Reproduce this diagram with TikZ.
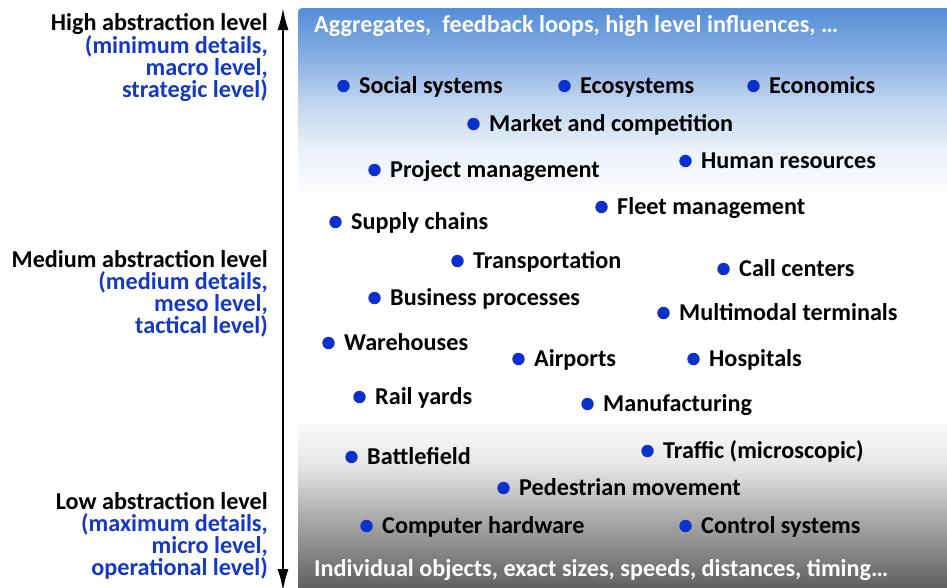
\documentclass[tikz,border=0pt]{standalone}
\usepackage{fontspec}
\setmainfont{Carlito}
\usetikzlibrary{arrows.meta}
\tikzset{>=latex}
\definecolor{myblue}{RGB}{84,141,213}
\definecolor{mydotblue}{RGB}{12,48,204}
\definecolor{mytextblue}{RGB}{20,56,200}
\definecolor{mygray}{RGB}{92,92,92}
\newcommand\blu[1]{\textcolor{mytextblue}{#1}}
\tikzset{
  bigfont/.style={font=\fontsize{24.2}{22}\selectfont\bfseries},
  topic/.style={bigfont,anchor=west,inner sep=0pt,text height=20pt,text depth=5pt},
  levelname/.style={bigfont,anchor=east,align=right,inner sep=0pt},
  bartext/.style={topic,text=white},
}

\begin{document}
\begin{tikzpicture}[x=1pt,y=-1pt]
  \useasboundingbox (0,0) rectangle (947,587);

  % shaded box
  \begin{scope}
    \clip[rounded corners=4] (298,592) -- (298,8) -- (952,8) -- (952,592) -- cycle;
    \fill[white] (298,8) rectangle (952,592);
    \shade[top color=myblue,bottom color=myblue!68!white]
      (298,7) rectangle (952,60.5);
    \shade[top color=myblue!68!white,bottom color=myblue!38!white]
      (298,60) rectangle (952,100.5);
    \shade[top color=myblue!38!white,bottom color=myblue!12!white]
      (298,100) rectangle (952,150.5);
    \shade[top color=myblue!12!white,bottom color=white]
      (298,150) rectangle (952,200);
    \shade[top color=white,bottom color=black!10]
      (298,415) rectangle (952,465.5);
    \shade[top color=black!10,bottom color=black!30]
      (298,465) rectangle (952,510.5);
    \shade[top color=black!30,bottom color=mygray]
      (298,510) rectangle (952,592);
  \end{scope}

  % arrow
  \coordinate (up) at (283,8);
  \coordinate (down) at (283,591);
  \draw[{Latex[length=22,width=11]}-{Latex[length=22,width=11]},line width=2]
    (down) -- (up);

  % levels
  \node[levelname] (high) at (268,58) {High abstraction level\\
    \blu{(minimum details,}\\ \blu{macro level,}\\ \blu{strategic level)}};
  \node[levelname] (medium) at (268,294) {Medium abstraction level\\
    \blu{(medium details,}\\ \blu{meso level,}\\ \blu{tactical level)}};
  \node[levelname] (low) at (268,536) {Low abstraction level\\
    \blu{(maximum details,}\\ \blu{micro level,}\\ \blu{operational level)}};

  % bar texts
  \node[bartext] (aggr) at (314,25) {Aggregates,\ \ feedback loops, high level influences, …};
  \node[bartext] (indiv) at (314,569) {Individual objects, exact sizes, speeds, distances, timing…};

  % topics
  \node[topic] (social) at (359,86) {Social systems};
  \node[topic] (eco) at (580,86) {Ecosystems};
  \node[topic] (economics) at (769,86) {Economics};
  \node[topic] (market) at (489,124) {Market and competition};
  \node[topic] (project) at (390,170) {Project management};
  \node[topic] (human) at (701,161) {Human resources};
  \node[topic] (fleet) at (617,207) {Fleet management};
  \node[topic] (supply) at (351,222) {Supply chains};
  \node[topic] (transport) at (473,261) {Transportation};
  \node[topic] (call) at (739,269) {Call centers};
  \node[topic] (business) at (390,298) {Business processes};
  \node[topic] (multimodal) at (679,313) {Multimodal terminals};
  \node[topic] (ware) at (344,343) {Warehouses};
  \node[topic] (airports) at (534,359) {Airports};
  \node[topic] (hospitals) at (709,359) {Hospitals};
  \node[topic] (rail) at (375,397) {Rail yards};
  \node[topic] (manuf) at (603,404) {Manufacturing};
  \node[topic] (battle) at (367,457) {Battlefield};
  \node[topic] (traffic) at (663,451) {Traffic (microscopic)};
  \node[topic] (pedestrian) at (519,488) {Pedestrian movement};
  \node[topic] (computer) at (382,526) {Computer hardware};
  \node[topic] (control) at (701,526) {Control systems};

  % bullets
  \foreach \t in {social,eco,economics,market,project,human,fleet,supply,
    transport,call,business,multimodal,ware,airports,hospitals,rail,manuf,
    battle,traffic,pedestrian,computer,control}
    \fill[mydotblue] (\t.west) ++(-15.5,0) circle (6.2pt);

\end{tikzpicture}
\end{document}
